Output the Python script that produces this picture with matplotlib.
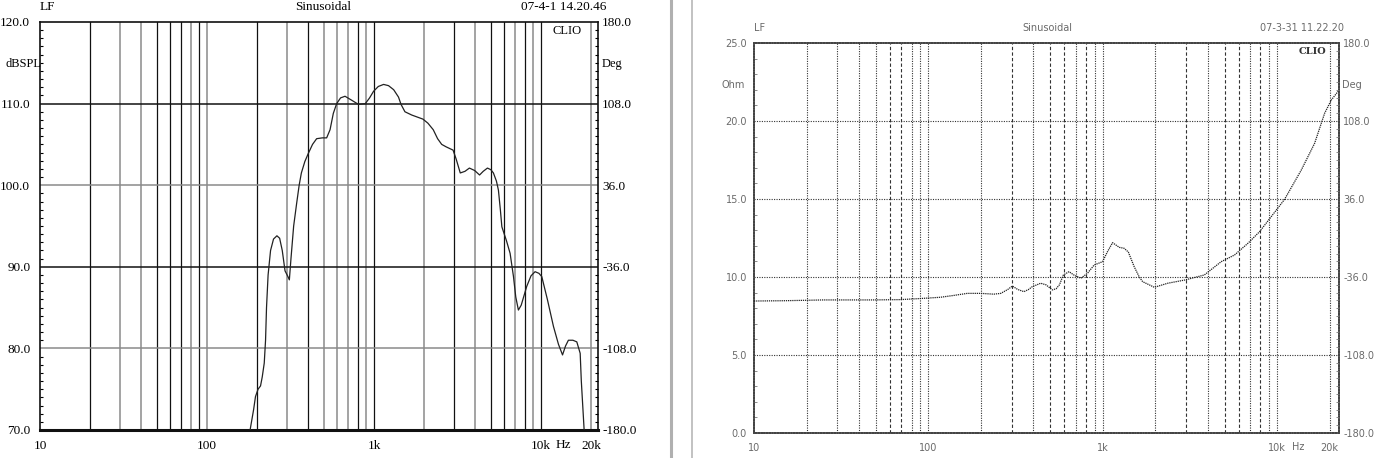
import numpy as np
import matplotlib
matplotlib.use("Agg")
import matplotlib.pyplot as plt
from matplotlib.lines import Line2D
from matplotlib.ticker import MultipleLocator, NullLocator

# ---- data ----
# left: SPL response (Hz, dBSPL)
spl_freq = [181, 190, 195, 202, 209, 214, 220, 224, 227, 232, 240, 250, 262, 272, 282,
            293, 305, 311, 318, 330, 344, 356, 367, 385, 404, 428, 453, 490, 520, 545,
            570, 597, 630, 670, 736, 807, 886, 940, 992, 1060, 1140, 1220, 1310, 1400,
            1450, 1530, 1680, 1960, 2100, 2260, 2400, 2540, 2700, 2970, 3100, 3280, 3500,
            3720, 4000, 4280, 4500, 4770, 5000, 5180, 5400, 5550, 5700, 5820, 6200, 6520,
            6830, 7050, 7310, 7600, 8200, 8700, 9200, 9700, 10090, 10900, 11850, 12700,
            13430, 14000, 14560, 15500, 16350, 17130, 17400, 17800, 18090]
spl_db = [70.0, 72.5, 74.1, 75.0, 75.4, 76.5, 78.2, 81.0, 85.0, 89.0, 92.0, 93.4, 93.8, 93.5, 92.0,
          89.5, 88.8, 88.4, 91.0, 95.0, 97.8, 100.0, 101.5, 102.9, 103.9, 105.0, 105.7, 105.8, 105.8, 106.8,
          108.8, 110.0, 110.7, 110.9, 110.4, 109.9, 110.0, 110.7, 111.5, 112.1, 112.35, 112.2, 111.7, 110.8,
          109.9, 109.0, 108.6, 108.1, 107.6, 106.8, 105.7, 105.0, 104.7, 104.3, 103.2, 101.5, 101.7,
          102.1, 101.8, 101.25, 101.7, 102.1, 101.9, 101.5, 100.5, 99.4, 97.0, 94.9, 93.2, 91.65,
          88.8, 86.3, 84.7, 85.3, 87.6, 88.9, 89.4, 89.2, 88.8, 86.0, 82.7, 80.5,
          79.2, 80.3, 81.0, 81.0, 80.8, 79.4, 76.0, 72.5, 70.0]

# right: impedance (Hz, Ohm)
imp_freq = [10, 15, 25, 48, 69, 90, 117, 140, 167, 200, 237, 260, 285, 303, 325, 353, 375,
            394, 440, 472, 514, 540, 564, 594, 640, 682, 748, 817, 892, 996, 1063, 1137,
            1243, 1325, 1400, 1513, 1618, 1692, 1974, 2356, 2933, 3820, 4767, 5690, 6790,
            7910, 9240, 11020, 13740, 16380, 18700, 20430, 22320]
imp_ohm = [8.46, 8.48, 8.53, 8.53, 8.55, 8.62, 8.7, 8.82, 8.95, 8.95, 8.9, 8.95, 9.2, 9.42, 9.2, 9.06, 9.2,
           9.38, 9.6, 9.5, 9.17, 9.25, 9.5, 10.13, 10.34, 10.13, 9.92, 10.24, 10.77, 10.98, 11.62, 12.2,
           11.9, 11.84, 11.6, 10.66, 10.0, 9.7, 9.34, 9.6, 9.8, 10.13, 10.98, 11.41, 12.16,
           12.9, 13.87, 14.98, 16.86, 18.57, 20.5, 21.35, 21.9]

grid_freqs = [20, 30, 40, 50, 60, 70, 80, 90, 100, 200, 300, 400, 500, 600, 700, 800, 900,
              1000, 2000, 3000, 4000, 5000, 6000, 7000, 8000, 9000, 10000, 20000]
dark_left = {20, 50, 60, 70, 90, 200, 400, 800, 1000, 3000, 5000, 6000, 8000, 10000}
dashed_right = {60, 70, 300, 500, 600, 800, 3000, 5000, 6000, 8000}

x_ticks = [10, 100, 1000, 10000, 20000]
x_labels = ["10", "100", "1k", "10k", "20k"]
spl_ticks = [70, 80, 90, 100, 110, 120]
ohm_ticks = [0, 5, 10, 15, 20, 25]
deg_ticks = [-180, -108, -36, 36, 108, 180]

W, H = 1380, 458
fig = plt.figure(figsize=(W / 100, H / 100), dpi=100)


def box(l, t, r, b):
    return [l / W, (H - b) / H, (r - l) / W, (b - t) / H]


# ================= left panel =================
serif = "Liberation Serif"
axl = fig.add_axes(box(40, 22, 598, 430))
axl.set_xscale("log")
axl.set_xlim(10, 21900)
axl.set_ylim(70, 120)
for f in grid_freqs:
    if f in dark_left:
        axl.axvline(f, color="#111111", lw=0.9, zorder=1)
    else:
        axl.axvline(f, color="#8a8a8a", lw=1.1, zorder=1)
for v in [80, 90, 100, 110]:
    c = "#111111" if v in (90, 110) else "#8a8a8a"
    axl.axhline(v, color=c, lw=1.1, zorder=1)
axl.plot(spl_freq, spl_db, color="#222222", lw=0.9, zorder=3)

for s in axl.spines.values():
    s.set_linewidth(1.2)
    s.set_color("#111111")
axl.spines["bottom"].set_linewidth(2.2)

axl.set_xticks(x_ticks)
axl.set_xticklabels(x_labels, fontfamily=serif, fontsize=9.5)
axl.xaxis.set_minor_locator(NullLocator())
axl.tick_params(axis="x", length=0, pad=7)
axl.set_yticks(spl_ticks)
axl.set_yticklabels([f"{v:.1f}" for v in spl_ticks], fontfamily=serif, fontsize=9.5)
axl.yaxis.set_minor_locator(MultipleLocator(1))
axl.tick_params(axis="y", which="major", length=0, pad=7)
axl.tick_params(axis="y", which="minor", direction="in", length=2.5, width=0.8)

axl2 = axl.twinx()
axl2.set_ylim(-180, 180)
axl2.set_yticks(deg_ticks)
axl2.set_yticklabels([f"{v:.1f}" for v in deg_ticks], fontfamily=serif, fontsize=9.5)
axl2.yaxis.set_minor_locator(MultipleLocator(7.2))
axl2.tick_params(axis="y", which="major", length=0, pad=3)
axl2.tick_params(axis="y", which="minor", direction="in", length=2.5, width=0.8)
for s in axl2.spines.values():
    s.set_visible(False)

fig.text(40 / W, 1 - 7 / H, "LF", fontfamily=serif, fontsize=9.5, va="center", ha="left")
fig.text(323 / W, 1 - 7 / H, "Sinusoidal", fontfamily=serif, fontsize=9.5, va="center", ha="center")
fig.text(606 / W, 1 - 7 / H, "07-4-1 14.20.46", fontfamily=serif, fontsize=9.5, va="center", ha="right")
fig.text(5 / W, 1 - 64 / H, "dBSPL", fontfamily=serif, fontsize=9, va="center", ha="left")
fig.text(602 / W, 1 - 64 / H, "Deg", fontfamily=serif, fontsize=9, va="center", ha="left")
fig.text(582 / W, 1 - 31 / H, "CLIO", fontfamily=serif, fontsize=9, va="center", ha="right")
fig.text(563 / W, 1 - 445 / H, "Hz", fontfamily=serif, fontsize=9.5, va="center", ha="center")

# ================= right panel =================
small = "DejaVu Sans"
tcol = "#6a6a6a"
axr = fig.add_axes(box(754, 43, 1339, 433))
axr.set_xscale("log")
axr.set_xlim(10, 22600)
axr.set_ylim(0, 25)
for f in grid_freqs:
    ls = (0, (3, 2)) if f in dashed_right else (0, (1, 1.2))
    axr.axvline(f, color="#333333", lw=0.8, ls=ls, zorder=1)
for v in [5, 10, 15, 20]:
    axr.axhline(v, color="#333333", lw=0.8, ls=(0, (1, 1.2)), zorder=1)
axr.plot(imp_freq, imp_ohm, color="#222222", lw=0.9, ls=(0, (1, 0.7)), zorder=3)

for s in axr.spines.values():
    s.set_linewidth(1.3)
    s.set_color("#444444")
    s.set_linestyle((0, (1, 0.5)))

axr.set_xticks(x_ticks)
axr.set_xticklabels(x_labels, fontfamily=small, fontsize=7, color=tcol)
axr.xaxis.set_minor_locator(NullLocator())
axr.tick_params(axis="x", length=0, pad=7)
axr.set_yticks(ohm_ticks)
axr.set_yticklabels([f"{v:.1f}" for v in ohm_ticks], fontfamily=small, fontsize=7, color=tcol)
axr.yaxis.set_minor_locator(MultipleLocator(1))
axr.tick_params(axis="y", which="major", length=0, pad=5)
axr.tick_params(axis="y", which="minor", direction="in", length=2, width=0.6, color="#777777")

axr2 = axr.twinx()
axr2.set_ylim(-180, 180)
axr2.set_yticks(deg_ticks)
axr2.set_yticklabels([f"{v:.1f}" for v in deg_ticks], fontfamily=small, fontsize=7, color=tcol)
axr2.yaxis.set_minor_locator(MultipleLocator(7.2))
axr2.tick_params(axis="y", which="major", length=0, pad=3)
axr2.tick_params(axis="y", which="minor", direction="in", length=2, width=0.6, color="#777777")
for s in axr2.spines.values():
    s.set_visible(False)

fig.text(754 / W, 1 - 28 / H, "LF", fontfamily=small, fontsize=7, color=tcol, va="center", ha="left")
fig.text(1047 / W, 1 - 28 / H, "Sinusoidal", fontfamily=small, fontsize=7, color=tcol, va="center", ha="center")
fig.text(1344 / W, 1 - 28 / H, "07-3-31 11.22.20", fontfamily=small, fontsize=7, color=tcol, va="center", ha="right")
fig.text(722 / W, 1 - 85 / H, "Ohm", fontfamily=small, fontsize=7, color=tcol, va="center", ha="left")
fig.text(1342 / W, 1 - 85 / H, "Deg", fontfamily=small, fontsize=7, color=tcol, va="center", ha="left")
fig.text(1326 / W, 1 - 51 / H, "CLIO", fontfamily="DejaVu Serif", fontsize=7, fontweight="bold",
         color="#333333", va="center", ha="right")
fig.text(1298 / W, 1 - 447 / H, "Hz", fontfamily=small, fontsize=7, color=tcol, va="center", ha="center")

# screenshot borders between the two panels
fig.add_artist(Line2D([671 / W, 671 / W], [0, 1], color="#b0b0b0", lw=2.2))
fig.add_artist(Line2D([692 / W, 692 / W], [0, 1], color="#b8b8b8", lw=1.2))

fig.savefig("out.png", dpi=100)
